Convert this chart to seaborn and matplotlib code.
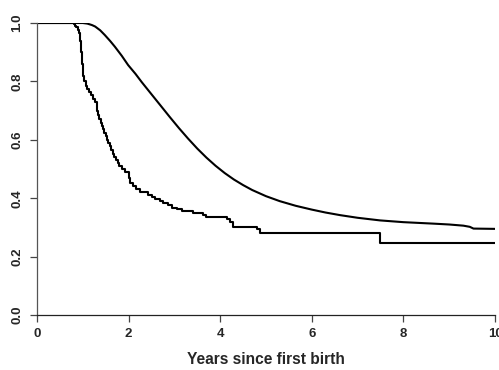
import matplotlib
matplotlib.use('Agg')

import matplotlib.pyplot as plt
import seaborn as sns
import pandas as pd

# Kaplan-Meier style step curve
step_years = [0, 0.815, 0.83, 0.86, 0.89, 0.92, 0.94, 0.95, 0.96, 0.97, 0.98, 0.99, 1.00,
              1.01, 1.03, 1.06, 1.10, 1.14, 1.19, 1.23, 1.27, 1.30, 1.32, 1.34, 1.36, 1.39,
              1.41, 1.44, 1.47, 1.50, 1.53, 1.56, 1.59, 1.62, 1.65, 1.68, 1.72, 1.76, 1.80,
              1.85, 1.92, 2.02, 2.04, 2.09, 2.16, 2.24, 2.43, 2.52, 2.58, 2.68, 2.76, 2.86,
              2.94, 3.05, 3.16, 3.40, 3.63, 3.70, 4.14, 4.21, 4.29, 4.80, 4.87, 7.49, 10]
step_surv = [1.0, 0.995, 0.99, 0.985, 0.975, 0.965, 0.955, 0.94, 0.92, 0.90, 0.88, 0.86, 0.84,
             0.82, 0.80, 0.785, 0.775, 0.765, 0.752, 0.74, 0.728, 0.715, 0.70, 0.685, 0.67,
             0.658, 0.646, 0.636, 0.625, 0.613, 0.60, 0.59, 0.578, 0.565, 0.553, 0.542, 0.53,
             0.52, 0.51, 0.50, 0.49, 0.47, 0.452, 0.442, 0.432, 0.42, 0.412, 0.405, 0.398,
             0.392, 0.384, 0.376, 0.368, 0.362, 0.356, 0.350, 0.344, 0.335, 0.330, 0.32, 0.30,
             0.295, 0.28, 0.245, 0.245]

# smooth fitted curve
fit_years = [0, 1.0, 1.1, 1.2, 1.27, 1.38, 1.48, 1.6, 1.70, 1.85, 1.99, 2.15, 2.29, 2.5,
             2.69, 2.9, 3.1, 3.3, 3.5, 3.7, 3.9, 4.1, 4.3, 4.5, 4.7, 5.0, 5.3, 5.65, 6.0,
             6.3, 6.62, 7.0, 7.49, 8.0, 8.65, 9.0, 9.31, 9.45, 9.53, 10]
fit_surv = [1.0, 1.0, 0.998, 0.993, 0.988, 0.975, 0.959, 0.938, 0.919, 0.888, 0.856, 0.826,
            0.797, 0.756, 0.719, 0.678, 0.640, 0.604, 0.570, 0.539, 0.511, 0.486, 0.464,
            0.445, 0.428, 0.407, 0.390, 0.374, 0.361, 0.351, 0.342, 0.333, 0.324, 0.318,
            0.313, 0.310, 0.306, 0.302, 0.296, 0.295]

km = pd.DataFrame({'years': step_years, 'surv': step_surv})
fit = pd.DataFrame({'years': fit_years, 'surv': fit_surv})

sns.set_style('ticks')
plt.rcParams['font.family'] = ['Liberation Sans', 'DejaVu Sans']

fig = plt.figure(figsize=(4.99, 3.70), dpi=100)
ax = fig.add_axes([0.0741, 0.1486, 0.9179, 0.7892])

sns.lineplot(data=km, x='years', y='surv', ax=ax, color='black', linewidth=1.5,
             drawstyle='steps-post', sort=False)
sns.lineplot(data=fit, x='years', y='surv', ax=ax, color='black', linewidth=1.5, sort=False)

ax.set_xlim(0, 10)
ax.set_ylim(0, 1)
ax.set_xticks([0, 2, 4, 6, 8, 10])
ax.set_yticks([0, 0.2, 0.4, 0.6, 0.8, 1.0])
ax.set_yticklabels(['0.0', '0.2', '0.4', '0.6', '0.8', '1.0'], rotation=90, va='center')
ax.tick_params(axis='both', length=5, width=0.9, color='#444444', labelsize=9.5)
ax.tick_params(axis='x', pad=4)
ax.tick_params(axis='y', pad=5)
for lab in ax.get_xticklabels() + ax.get_yticklabels():
    lab.set_fontweight('bold')
    lab.set_clip_on(False)

sns.despine(ax=ax)
ax.spines['left'].set_color('#555555')
ax.spines['bottom'].set_color('#222222')
ax.spines['left'].set_linewidth(0.9)
ax.spines['bottom'].set_linewidth(0.9)

ax.set_xlabel('Years since first birth', fontsize=11.2, fontweight='bold', labelpad=9)
ax.set_ylabel('')

fig.savefig('out.png', dpi=100)
